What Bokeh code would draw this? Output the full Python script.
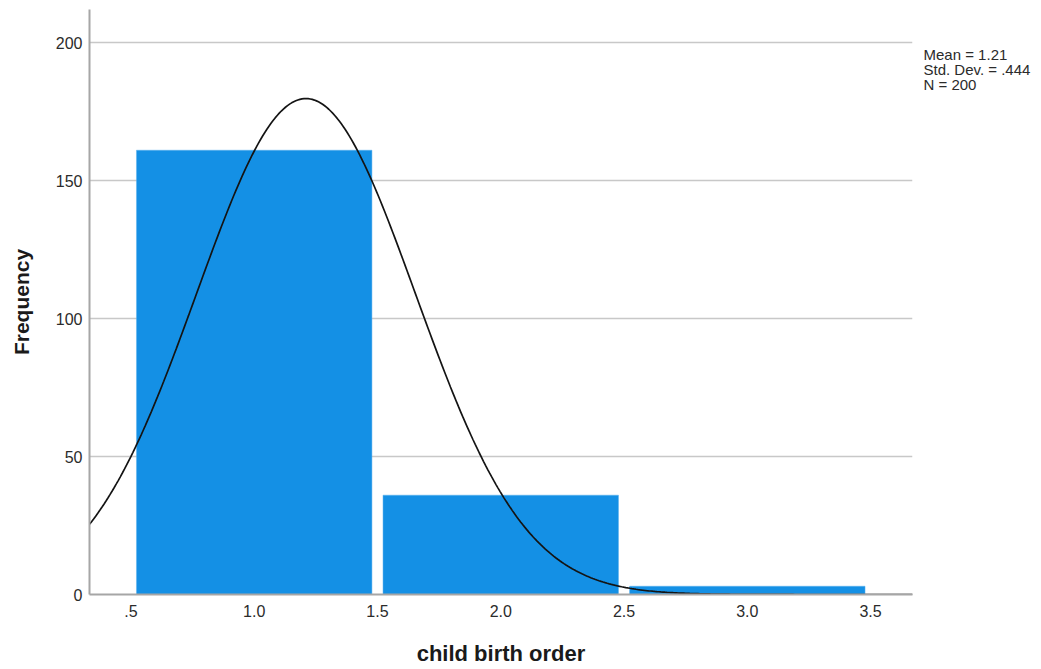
import numpy as np
from bokeh.plotting import figure
from bokeh.models import Range1d, FixedTicker, LinearAxis
from bokeh.embed import file_html
from bokeh.resources import INLINE

# Data
bin_centers = [1.0, 2.0, 3.0]
frequencies = [161, 36, 3]
x_ticks = [0.5, 1.0, 1.5, 2.0, 2.5, 3.0, 3.5]
x_tick_labels = [".5", "1.0", "1.5", "2.0", "2.5", "3.0", "3.5"]
y_ticks = [0, 50, 100, 150, 200]
stat_mean = 1.21
stat_sd = 0.444
stat_n = 200
stat_lines = ["Mean = 1.21", "Std. Dev. = .444", "N = 200"]
bin_width = 1.0
x_axis_title = "child birth order"
y_axis_title = "Frequency"

FONT = "Liberation Sans"

x0, x1 = 0.332, 3.67
y0, y1 = 0, 212.0
left_px, right_px, top_px, bottom_px = 89, 129, 9, 75
W, H = 1041, 669
px_per_y = (H - top_px - bottom_px) / (y1 - y0)

p = figure(width=W, height=H, output_backend="svg", toolbar_location=None,
           x_range=Range1d(x0, x1), y_range=Range1d(y0, y1),
           min_border_left=left_px, min_border_right=right_px, min_border_top=top_px,
           min_border_bottom=bottom_px)
p.outline_line_color = None
p.background_fill_color = "white"
p.border_fill_color = "white"

p.vbar(x=bin_centers, top=frequencies, bottom=0, width=0.955,
       fill_color="#1490e5", line_color="#5ab0ee", line_width=0.5)

xs = np.linspace(x0, x1, 400)
ys = stat_n * bin_width * np.exp(-0.5 * ((xs - stat_mean) / stat_sd) ** 2) / (stat_sd * np.sqrt(2 * np.pi))
p.line(xs, ys, line_color="#141414", line_width=1.7)

p.xgrid.grid_line_color = None
p.ygrid.grid_line_color = "#c8c8c8"
p.ygrid.grid_line_width = 1.5
p.yaxis.ticker = FixedTicker(ticks=y_ticks)
p.xaxis.ticker = FixedTicker(ticks=x_ticks)
p.xaxis.major_label_overrides = {t: l for t, l in zip(x_ticks, x_tick_labels)}

for ax in (p.xaxis, p.yaxis):
    ax.axis_line_color = "#a6a6a6"
    ax.axis_line_width = 2
    ax.major_tick_line_color = None
    ax.minor_tick_line_color = None
    ax.major_tick_out = 0
    ax.major_tick_in = 0
    ax.minor_tick_out = 0
    ax.major_label_text_font = FONT
    ax.major_label_text_font_size = "16px"
    ax.major_label_text_color = "#2b2b2b"
    ax.axis_label_text_font = FONT
    ax.axis_label_text_font_style = "bold"
    ax.axis_label_text_color = "#1a1a1a"

p.xaxis.axis_label = x_axis_title
p.xaxis.axis_label_text_font_size = "22px"
p.xaxis.major_label_standoff = 10
p.xaxis.axis_label_standoff = 21

p.yaxis.axis_label = y_axis_title
p.yaxis.axis_label_text_font_size = "21px"
p.yaxis.major_label_standoff = 7
p.yaxis.axis_label_standoff = 20

# statistics text block to the right of the plot (drawn as labels of a bare right-hand axis)
frame_bottom_px = H - bottom_px
stat_pos = [round((frame_bottom_px - (54 + 15 * i)) / px_per_y, 3) for i in range(len(stat_lines))]
stat_axis = LinearAxis(ticker=FixedTicker(ticks=stat_pos),
                       major_label_overrides={v: t for v, t in zip(stat_pos, stat_lines)},
                       axis_line_color=None, major_tick_line_color=None, minor_tick_line_color=None,
                       major_tick_out=0, major_tick_in=0, minor_tick_out=0,
                       major_label_standoff=11, major_label_text_font=FONT,
                       major_label_text_font_size="15px", major_label_text_color="#2b2b2b")
p.add_layout(stat_axis, "right")

open("out.html", "w").write(file_html(p, INLINE))
